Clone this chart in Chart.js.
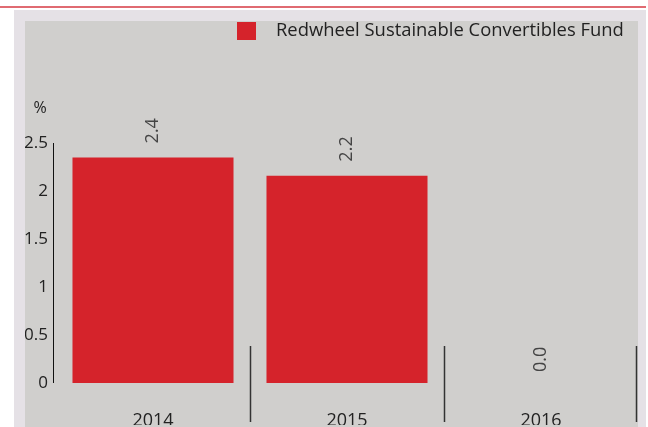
<!DOCTYPE html>
<html>
<head>
<meta charset="utf-8">
<script src="https://cdn.jsdelivr.net/npm/chart.js@4.4.1/dist/chart.umd.min.js"></script>
<style>
  html, body { margin: 0; padding: 0; background: #ffffff; width: 648px; height: 427px; overflow: hidden; }
  #topline { position: absolute; left: 0; top: 6px; width: 646px; height: 2px; background: #e06b72; }
  #frame { position: absolute; left: 14px; top: 10px; width: 632px; height: 417px; background: #e5e1e6; }
  #plot { position: absolute; left: 25px; top: 21px; width: 613px; height: 406px; background: #d0cfcd; }
  canvas { display: block; }
</style>
</head>
<body>
<div id="topline"></div>
<div id="frame"></div>
<div id="plot"><canvas id="grafico" width="613" height="406"></canvas></div>
<script>
// Datos del gráfico
const categorias = ['2014', '2015', '2016'];
const serieNombre = 'Redwheel Sustainable Convertibles Fund';
const serieValores = [2.35, 2.16, 0];
const ticksY = [0, 0.5, 1, 1.5, 2, 2.5];

const FUENTE = '"Open Sans", "Noto Sans", sans-serif';
const ROJO = '#d5232b';
const TAM = 18;

/**
 * Etiquetas rotadas encima de cada barra, leyenda propia, unidad y separadores.
 */
const extras = {
  id: 'extras',
  afterDatasetsDraw(chart) {
    const { ctx, chartArea, scales } = chart;
    const meta = chart.getDatasetMeta(0);
    ctx.save();

    // valores encima de las barras
    ctx.font = TAM + 'px ' + FUENTE;
    ctx.fillStyle = '#444444';
    meta.data.forEach((bar, i) => {
      ctx.save();
      ctx.translate(bar.x, bar.y - (serieValores[i] === 0 ? 11 : 14));
      ctx.rotate(-Math.PI / 2);
      ctx.textAlign = 'left';
      ctx.textBaseline = 'middle';
      ctx.fillText(serieValores[i].toFixed(1), 0, 0);
      ctx.restore();
    });

    // separadores de categorías
    ctx.strokeStyle = '#333333';
    ctx.lineWidth = 1.5;
    const x = scales.x;
    for (let i = 0; i < categorias.length; i++) {
      let px;
      if (i < categorias.length - 1) {
        px = (x.getPixelForValue(i) + x.getPixelForValue(i + 1)) / 2;
      } else {
        px = chartArea.right - 2;
      }
      px = Math.round(px) + 0.5;
      ctx.beginPath();
      ctx.moveTo(px, chartArea.bottom - 37);
      ctx.lineTo(px, chartArea.bottom + 39);
      ctx.stroke();
    }

    // eje Y dibujado a mano (2 px a la izquierda del área)
    ctx.strokeStyle = '#111111';
    ctx.lineWidth = 1;
    ctx.beginPath();
    ctx.moveTo(chartArea.left - 2.5, chartArea.top);
    ctx.lineTo(chartArea.left - 2.5, chartArea.bottom);
    ctx.stroke();

    // unidad del eje Y
    ctx.fillStyle = '#222222';
    ctx.textAlign = 'center';
    ctx.textBaseline = 'middle';
    ctx.font = '16px ' + FUENTE;
    ctx.fillText('%', 15, chartArea.top - 35);

    // leyenda
    ctx.font = '18.4px ' + FUENTE;
    ctx.fillStyle = ROJO;
    ctx.fillRect(212, 1, 19, 18);
    ctx.fillStyle = '#222222';
    ctx.textAlign = 'left';
    ctx.fillText(serieNombre, 251, 10);

    ctx.restore();
  }
};

const canvas = document.getElementById('grafico');
new Chart(canvas.getContext('2d'), {
  type: 'bar',
  data: {
    labels: categorias,
    datasets: [{
      label: serieNombre,
      data: serieValores,
      backgroundColor: ROJO,
      borderWidth: 0,
      categoryPercentage: 0.83,
      barPercentage: 1.0,
    }],
  },
  options: {
    responsive: false,
    animation: false,
    devicePixelRatio: 1,
    layout: { padding: { top: 122, right: 0, bottom: 2, left: 0 } },
    plugins: {
      legend: { display: false },
      tooltip: { enabled: false },
    },
    scales: {
      x: {
        grid: { display: false, drawTicks: false },
        border: { display: false },
        ticks: { color: '#222222', font: { family: FUENTE, size: TAM }, padding: 27, maxRotation: 0 },
        afterFit(scale) { scale.height = 42; },
      },
      y: {
        min: 0,
        max: 2.5,
        afterBuildTicks(scale) { scale.ticks = ticksY.map(v => ({ value: v })); },
        grid: { display: false, drawTicks: false },
        border: { display: false },
        ticks: {
          color: '#222222',
          font: { family: FUENTE, size: 17 },
          padding: 8,
          callback: (v) => String(v),
        },
        afterFit(scale) { scale.width = 31; },
      },
    },
  },
  plugins: [extras],
});
</script>
</body>
</html>
